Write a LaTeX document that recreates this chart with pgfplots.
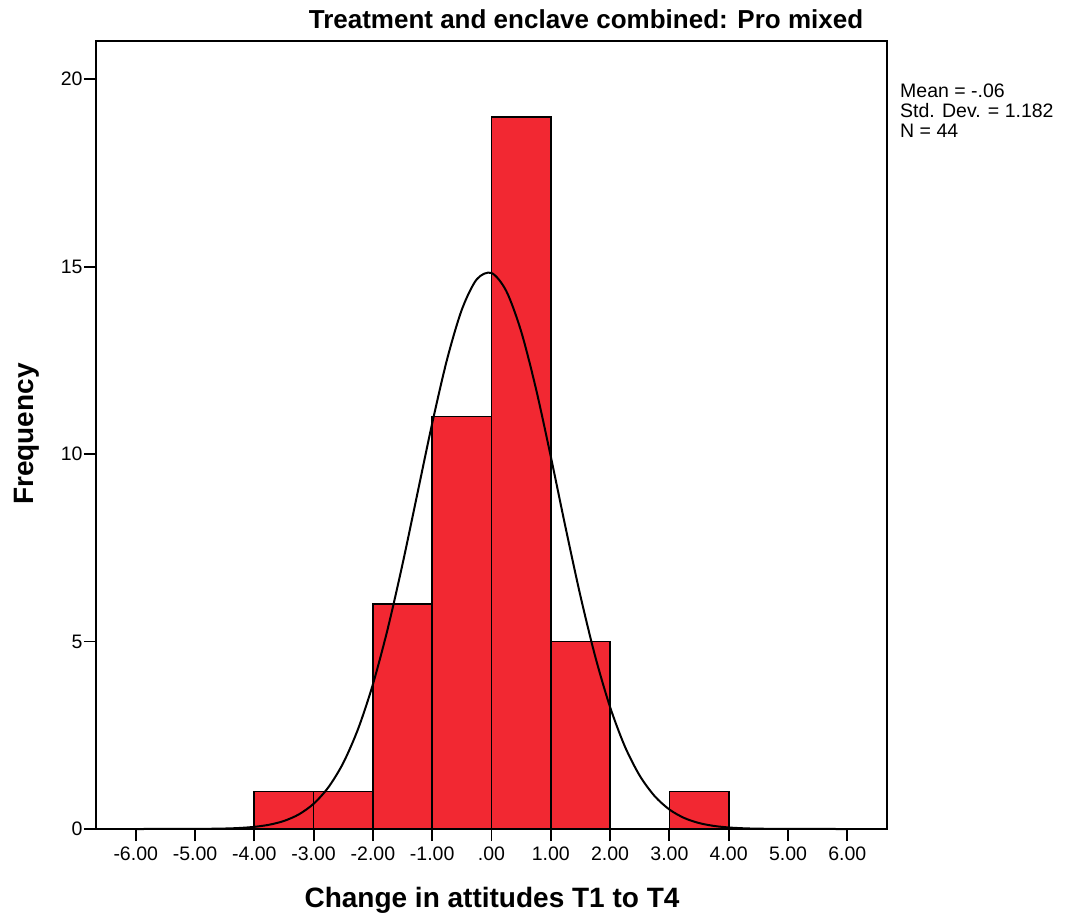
\documentclass[border=0pt]{standalone}
\usepackage{pgfplots}
\pgfplotsset{compat=1.18}
\usepackage{fontspec}
\setmainfont{Liberation Sans}
\definecolor{barred}{RGB}{242,40,50}

\begin{document}
\begin{tikzpicture}[x=1pt,y=1pt]
\useasboundingbox (0,0) rectangle (1065,922);
\begin{axis}[
  at={(96pt,93pt)}, anchor=south west,
  scale only axis, width=791pt, height=788pt,
  xmin=-6.67, xmax=6.67, ymin=0, ymax=21.02,
  axis line style={line width=2pt},
  tick align=outside, tick style={line width=1.8pt, black},
  major tick length=12pt,
  xtick={-6,-5,-4,-3,-2,-1,0,1,2,3,4,5,6},
  xticklabels={-6.00,-5.00,-4.00,-3.00,-2.00,-1.00,.00,1.00,2.00,3.00,4.00,5.00,6.00},
  ytick={0,5,10,15,20},
  xtick pos=bottom, ytick pos=left,
  /pgf/number format/assume math mode=true,
  ticklabel style={font=\fontsize{19.5}{21}\selectfont},
  xticklabel style={yshift=-2pt},
  yticklabel style={xshift=2pt},
  clip=false,
]
  % histogram bins of width 1
  \addplot[ybar interval, fill=barred, draw=black, line width=1.7pt]
    coordinates {(-4,1) (-3,1) (-2,6) (-1,11) (0,19) (1,5) (2,0) (3,1) (4,1)};
  % fitted normal curve (mean -0.06, sd 1.182, N 44)
  \addplot[smooth, black, line width=2pt, no marks] coordinates {
    (-6,0) (-5,0.0024) (-4.5,0.0128) (-4.25,0.0277) (-4,0.0573) (-3.75,0.1136)
    (-3.5,0.2149) (-3.25,0.389) (-3,0.673) (-2.75,1.114) (-2.5,1.763)
    (-2.25,2.669) (-2,3.861) (-1.75,5.343) (-1.5,7.070) (-1.25,8.946)
    (-1,10.823) (-0.75,12.523) (-0.5,13.856) (-0.25,14.660) (0,14.831)
    (0.25,14.348) (0.5,13.273) (0.75,11.742) (1,9.933) (1.25,8.035)
    (1.5,6.215) (1.75,4.598) (2,3.252) (2.25,2.199) (2.5,1.422)
    (2.75,0.880) (3,0.520) (3.25,0.294) (3.5,0.159) (3.75,0.0822)
    (4,0.0407) (4.25,0.0192) (4.5,0.0087) (5,0.0016) (6,0)};
\end{axis}
\node[font=\bfseries\fontsize{26}{29}\selectfont] at (586,903) {Treatment and enclave combined: Pro mixed};
\node[font=\bfseries\fontsize{28}{32}\selectfont] at (492,22) {Change in attitudes T1 to T4};
\node[font=\bfseries\fontsize{28}{32}\selectfont, rotate=90] at (27,488) {Frequency};
\node[anchor=north west, align=left, inner sep=0pt, font=\fontsize{19.5}{20}\selectfont] at (900,838)
  {Mean = -.06\\Std. Dev. = 1.182\\N = 44};
\end{tikzpicture}
\end{document}
